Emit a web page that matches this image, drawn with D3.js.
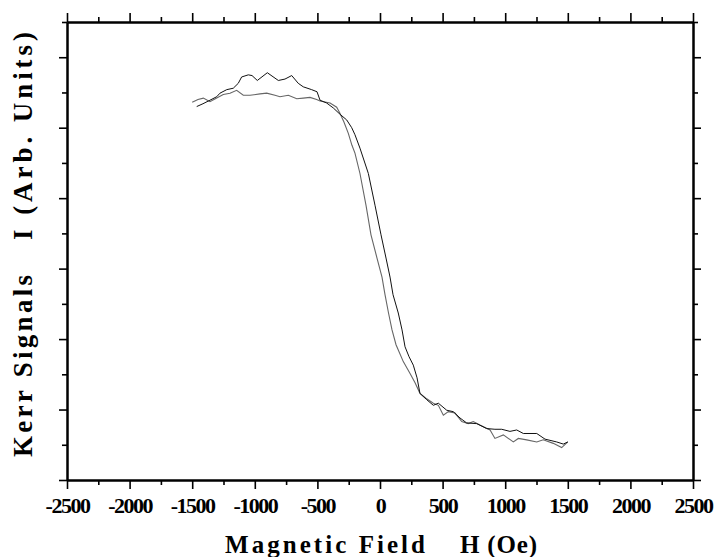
<!DOCTYPE html>
<html>
<head>
<meta charset="utf-8">
<script src="https://cdn.jsdelivr.net/npm/d3@7"></script>
<style>
  body { margin: 0; background: #fff; }
  text { font-family: "Liberation Serif", "Times New Roman", serif; font-weight: bold; }
</style>
</head>
<body>
<div id="chart"></div>
<script>
// branch with the transition on the right (black)
var fieldR = [-1464, -1414, -1358, -1304, -1278, -1224, -1172, -1132, -1105, -1052, -1022, -980, -900, -812, -759, -705,
  -653, -613, -546, -503, -479, -426, -373, -319, -266, -226, -200, -160, -93, -40, 8, 48, 80, 104, 146, 176, 200,
  232, 266, 296, 319, 373, 426, 466, 533, 585, 639, 692, 772, 852, 918, 972, 1038, 1092, 1145, 1252, 1318, 1411, 1464, 1500];
var signalR = [5.30, 5.34, 5.39, 5.44, 5.49, 5.54, 5.56, 5.63, 5.72, 5.75, 5.74, 5.67, 5.78, 5.67, 5.69, 5.74,
  5.63, 5.58, 5.54, 5.51, 5.39, 5.35, 5.28, 5.19, 5.11, 5.00, 4.90, 4.71, 4.35, 3.90, 3.48, 3.15, 2.88, 2.63, 2.37, 2.13, 1.89,
  1.75, 1.63, 1.45, 1.23, 1.14, 1.06, 1.09, 0.99, 0.97, 0.88, 0.81, 0.80, 0.73, 0.72, 0.72, 0.69, 0.71, 0.66, 0.66, 0.58, 0.54, 0.51, 0.54];

// branch with the transition on the left (gray)
var fieldL = [-1500, -1454, -1411, -1358, -1304, -1252, -1198, -1145, -1092, -1038, -958, -905, -839, -799, -732, -665,
  -613, -559, -506, -479, -399, -346, -319, -288, -253, -224, -200, -160, -112, -72, -24, 16, 40, 68, 96, 128,
  186, 240, 280, 319, 367, 426, 466, 506, 546, 599, 653, 705, 745, 799, 879, 918, 985, 1065, 1105, 1172, 1252, 1304, 1384, 1451, 1500];
var signalL = [5.36, 5.40, 5.42, 5.37, 5.42, 5.47, 5.49, 5.53, 5.46, 5.46, 5.48, 5.49, 5.46, 5.44, 5.46, 5.41,
  5.42, 5.43, 5.40, 5.38, 5.35, 5.29, 5.20, 5.08, 4.92, 4.75, 4.64, 4.35, 3.90, 3.48, 3.15, 2.88, 2.63, 2.37, 2.13, 1.92,
  1.68, 1.51, 1.38, 1.23, 1.16, 1.09, 1.06, 0.92, 0.97, 0.95, 0.83, 0.80, 0.83, 0.78, 0.71, 0.59, 0.64, 0.54, 0.59, 0.57, 0.54, 0.57, 0.52, 0.46, 0.54];

var xMajor = [-2500, -2000, -1500, -1000, -500, 0, 500, 1000, 1500, 2000, 2500];
var xMinor = [-2250, -1750, -1250, -750, -250, 250, 750, 1250, 1750, 2250];
var yMajor = [0, 1, 2, 3, 4, 5, 6];
var yMinor = [0.5, 1.5, 2.5, 3.5, 4.5, 5.5, 6.5];

var width = 715, height = 557;
var margin = { top: 22, right: 22, bottom: 77, left: 67 };

var svg = d3.select("#chart").append("svg")
  .attr("width", width)
  .attr("height", height);

var x = d3.scaleLinear().domain([-2500, 2500]).range([margin.left, width - margin.right]);
var y = d3.scaleLinear().domain([0, 6.5]).range([height - margin.bottom, margin.top]);

function styleAxis(g) {
  g.select(".domain").attr("stroke", "#000").attr("stroke-width", 2);
  g.selectAll(".tick line").attr("stroke", "#000").attr("stroke-width", 1.6);
}

// bottom
svg.append("g").attr("transform", `translate(0,${y(0)})`)
  .call(d3.axisBottom(x).tickValues(xMajor).tickSize(9).tickSizeOuter(0).tickFormat(d => String(d)))
  .call(styleAxis)
  .call(g => g.selectAll("text")
    .attr("y", 33).attr("dy", 0)
    .attr("fill", "#000")
    .style("font-size", "22px")
    .style("letter-spacing", "-1.5px")
    .style("font-family", "'Liberation Serif', serif"));
svg.append("g").attr("transform", `translate(0,${y(0)})`)
  .call(d3.axisBottom(x).tickValues(xMinor).tickSize(5).tickSizeOuter(0).tickFormat(""))
  .call(styleAxis);

// top
svg.append("g").attr("transform", `translate(0,${y(6.5)})`)
  .call(d3.axisTop(x).tickValues(xMajor).tickSize(9).tickSizeOuter(0).tickFormat(""))
  .call(styleAxis);
svg.append("g").attr("transform", `translate(0,${y(6.5)})`)
  .call(d3.axisTop(x).tickValues(xMinor).tickSize(5).tickSizeOuter(0).tickFormat(""))
  .call(styleAxis);

// left
svg.append("g").attr("transform", `translate(${x(-2500)},0)`)
  .call(d3.axisLeft(y).tickValues(yMajor).tickSize(8).tickSizeOuter(0).tickFormat(""))
  .call(styleAxis);
svg.append("g").attr("transform", `translate(${x(-2500)},0)`)
  .call(d3.axisLeft(y).tickValues(yMinor).tickSize(5).tickSizeOuter(0).tickFormat(""))
  .call(styleAxis);

// right
svg.append("g").attr("transform", `translate(${x(2500)},0)`)
  .call(d3.axisRight(y).tickValues(yMajor).tickSize(8).tickSizeOuter(0).tickFormat(""))
  .call(styleAxis);
svg.append("g").attr("transform", `translate(${x(2500)},0)`)
  .call(d3.axisRight(y).tickValues(yMinor).tickSize(5).tickSizeOuter(0).tickFormat(""))
  .call(styleAxis);

// curves
var line = d3.line()
  .x(d => x(d[0]))
  .y(d => y(d[1]));

svg.append("path")
  .datum(d3.zip(fieldL, signalL))
  .attr("fill", "none")
  .attr("stroke", "#666")
  .attr("stroke-width", 1.1)
  .attr("d", line);

svg.append("path")
  .datum(d3.zip(fieldR, signalR))
  .attr("fill", "none")
  .attr("stroke", "#111")
  .attr("stroke-width", 1)
  .attr("d", line);

// axis titles
svg.append("text")
  .attr("x", 225).attr("y", 553)
  .attr("textLength", 200).attr("lengthAdjust", "spacing")
  .style("font-size", "25px")
  .text("Magnetic Field");
svg.append("text")
  .attr("x", 460).attr("y", 553)
  .attr("textLength", 77).attr("lengthAdjust", "spacing")
  .style("font-size", "25px")
  .text("H (Oe)");

var yt = svg.append("g").attr("transform", "translate(32,0) rotate(-90)");
yt.append("text")
  .attr("x", -457).attr("y", 0)
  .attr("textLength", 182).attr("lengthAdjust", "spacing")
  .style("font-size", "27px")
  .text("Kerr Signals");
yt.append("text")
  .attr("x", -240).attr("y", 0)
  .attr("textLength", 208).attr("lengthAdjust", "spacing")
  .style("font-size", "27px")
  .text("I (Arb. Units)");
</script>
</body>
</html>
